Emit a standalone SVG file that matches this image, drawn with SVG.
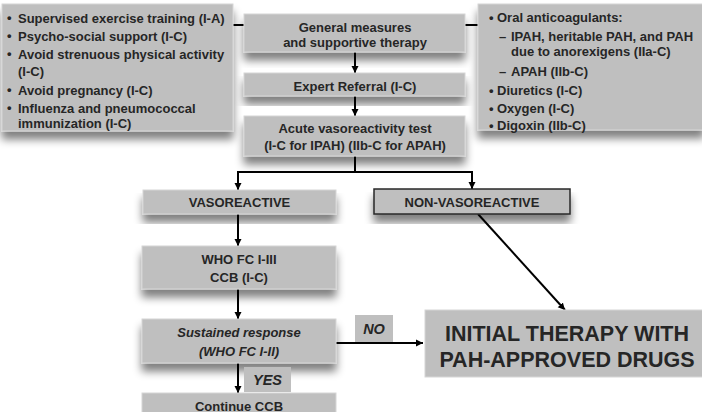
<svg xmlns="http://www.w3.org/2000/svg" width="702" height="412" viewBox="0 0 702 412">
<defs>
<filter id="sh" x="-10%" y="-20%" width="120%" height="160%">
<feGaussianBlur in="SourceAlpha" stdDeviation="4"/>
<feOffset dx="0" dy="8" result="b"/>
<feComponentTransfer><feFuncA type="linear" slope="0.5"/></feComponentTransfer>
<feMerge><feMergeNode/><feMergeNode in="SourceGraphic"/></feMerge>
</filter>
<marker id="ah" markerWidth="8" markerHeight="8" refX="7" refY="4" orient="auto" markerUnits="userSpaceOnUse">
<path d="M0,0.5 L7,4 L0,7.5 Z" fill="#000"/>
</marker>
</defs>
<style>
.box{fill:#bfbfbf;stroke:#d6d6d6;stroke-width:1}
.t{font-family:"Liberation Sans",Arial,sans-serif;font-weight:bold;font-size:13px;fill:#262626}
.c{text-anchor:middle}
.i{font-style:italic}
.lg{font-size:14.5px}
.xl{font-size:21.5px}
.ln{stroke:#000;stroke-width:2;fill:none}
.ar{stroke:#000;stroke-width:2;fill:none;marker-end:url(#ah)}
</style>
<rect width="702" height="412" fill="#fff"/>

<g id="connectors">
<line class="ln" x1="233" y1="25" x2="245" y2="25" stroke-width="2.5"/>
<line class="ln" x1="465" y1="25" x2="479" y2="25" stroke-width="2.5"/>
<line class="ar" x1="355" y1="52" x2="355" y2="73"/>
<line class="ar" x1="355" y1="96" x2="355" y2="116"/>
<polyline class="ln" points="355,156 355,172"/>
<line class="ln" x1="237" y1="172" x2="473" y2="172"/>
<line class="ar" x1="238" y1="172" x2="238" y2="190"/>
<line class="ar" x1="472" y1="172" x2="472" y2="189"/>
<line class="ar" x1="238" y1="214" x2="238" y2="246"/>
<line class="ar" x1="238" y1="289" x2="238" y2="319"/>
<line class="ar" x1="238" y1="363" x2="238" y2="393"/>
<line class="ar" x1="336" y1="343" x2="423" y2="343"/>
<line class="ar" x1="478" y1="214" x2="565" y2="310"/>
</g>

<g id="left-box">
<rect class="box" x="2" y="4" width="231" height="127" filter="url(#sh)"/>
<g class="t">
<text x="7" y="22">•</text><text x="18" y="22.5">Supervised exercise training (I-A)</text>
<text x="7" y="40">•</text><text x="18" y="40.5">Psycho-social support (I-C)</text>
<text x="7" y="58">•</text><text x="18" y="58.5">Avoid strenuous physical activity</text>
<text x="18" y="76">(I-C)</text>
<text x="7" y="94">•</text><text x="18" y="94.5">Avoid pregnancy (I-C)</text>
<text x="7" y="112">•</text><text x="18" y="112.5">Influenza and pneumococcal</text>
<text x="18" y="127.5">immunization (I-C)</text>
</g>
</g>

<g id="right-box">
<rect class="box" x="478" y="4" width="226" height="126" filter="url(#sh)"/>
<g class="t">
<text x="489" y="22">•</text><text x="497" y="22">Oral anticoagulants:</text>
<text x="499" y="41">–</text><text x="511" y="41">IPAH, heritable PAH, and PAH</text>
<text x="511" y="56">due to anorexigens  (IIa-C)</text>
<text x="499" y="76">–</text><text x="511" y="76">APAH (IIb-C)</text>
<text x="489" y="94.5">•</text><text x="497" y="94.5">Diuretics (I-C)</text>
<text x="489" y="112.5">•</text><text x="497" y="112.5">Oxygen (I-C)</text>
<text x="489" y="129.5">•</text><text x="497" y="129.5">Digoxin (IIb-C)</text>
</g>
</g>

<g id="general">
<rect class="box" x="244" y="14" width="221" height="38" filter="url(#sh)"/>
<text class="t c" x="355" y="31.5">General measures</text>
<text class="t c" x="355" y="46.5">and supportive therapy</text>
</g>

<g id="expert">
<rect class="box" x="244" y="73" width="221" height="23" filter="url(#sh)"/>
<text class="t c" x="355" y="90.5">Expert Referral (I-C)</text>
</g>

<g id="acute">
<rect class="box" x="244" y="116" width="221" height="40" filter="url(#sh)"/>
<text class="t c" x="355" y="133">Acute vasoreactivity test</text>
<text class="t c" x="355" y="149.5">(I-C for IPAH) (IIb-C for APAH)</text>
</g>

<g id="vasoreactive">
<rect class="box" x="143" y="190" width="193" height="24" filter="url(#sh)"/>
<text class="t c" x="239.5" y="206.5">VASOREACTIVE</text>
</g>

<g id="non-vasoreactive">
<rect x="374" y="189" width="196" height="25" fill="#bfbfbf" stroke="#2a2a2a" stroke-width="1.5" filter="url(#sh)"/>
<text class="t c" x="472" y="206.5">NON-VASOREACTIVE</text>
</g>

<g id="who-fc">
<rect class="box" x="142" y="246" width="194" height="43" filter="url(#sh)"/>
<text class="t c" x="239" y="263.5">WHO FC I-III</text>
<text class="t c" x="239" y="281.5">CCB  (I-C)</text>
</g>

<g id="sustained">
<rect class="box" x="142" y="319" width="194" height="44" filter="url(#sh)"/>
<text class="t c i" x="239" y="337">Sustained response</text>
<text class="t c i" x="239" y="355.5">(WHO FC I-II)</text>
</g>

<g id="yes-label">
<rect x="244" y="367" width="47" height="25" fill="#bfbfbf"/>
<text class="t c i lg" x="267.5" y="384.5">YES</text>
</g>

<g id="no-label">
<rect x="355" y="315" width="38" height="27" fill="#bfbfbf"/>
<text class="t c i lg" x="374" y="334">NO</text>
</g>

<g id="continue">
<rect class="box" x="142" y="393" width="194" height="24"/>
<text class="t c" x="239" y="410.5">Continue CCB</text>
</g>

<g id="initial">
<rect class="box" x="425" y="310" width="280" height="67"/>
<text class="t c xl" x="567" y="340.5">INITIAL THERAPY WITH</text>
<text class="t c xl" x="567" y="366.5">PAH-APPROVED DRUGS</text>
</g>
</svg>
